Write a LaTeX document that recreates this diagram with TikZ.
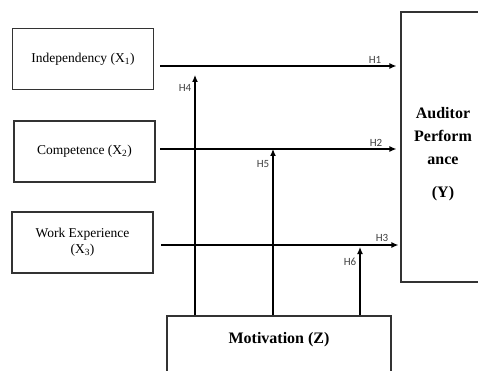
\documentclass[tikz,border=0pt]{standalone}
\usepackage{fontspec}
\setmainfont{Liberation Serif}
\newfontfamily\hypfont{Carlito}
\usetikzlibrary{arrows.meta}
\usetikzlibrary{positioning}

\tikzset{
  varbox/.style={draw=black!80, line width=1.2pt, minimum width=141pt, minimum height=61pt,
    align=center, font=\fontsize{13.5}{16}\selectfont, inner sep=0pt},
  bigbox/.style={draw=black!80, line width=1.2pt, inner sep=0pt},
  boldtext/.style={font=\fontsize{16}{23}\selectfont\bfseries, align=center, inner sep=0pt},
  link/.style={line width=1.2pt, -{Latex[length=7pt,width=6pt]}},
  hyp/.style={font=\hypfont\fontsize{11}{12}\selectfont, text=black!75, inner sep=0pt},
}

\begin{document}
\begin{tikzpicture}[x=1pt, y=-1pt]
    \useasboundingbox (0,0) rectangle (478,371);
    \clip (0,0) rectangle (478,371);

    % independent variables
    \node[varbox] (x1) at (83,59) {Independency (X\textsubscript{1})};
    \node[varbox] (x2) at (84.5,151.5) {Competence (X\textsubscript{2})};
    \node[varbox] (x3) at (82.5,242.5) {Work Experience\\(X\textsubscript{3})};

    % dependent and moderating variables
    \node[bigbox, minimum width=90pt, minimum height=270pt] (y) at (446,147) {};
    \node[boldtext] (ytext) at (443,154) {Auditor\\Perform\\ance\\[10pt](Y)};
    \node[bigbox, minimum width=224pt, minimum height=90pt] (z) at (279,361) {};
    \node[boldtext] (ztext) at (279,340) {Motivation (Z)};

    % start points of the direct paths
    \coordinate (s1) at (160,66);
    \coordinate (s2) at (160,149);
    \coordinate (s3) at (161,245);

    % end points of the moderating paths
    \coordinate (m4) at (195,75);
    \coordinate (m5) at (273,149);
    \coordinate (m6) at (360,247);

    \draw[link, shorten >=4pt] (s1) -- (s1 -| y.west);
    \draw[link, shorten >=4pt] (s2) -- (s2 -| y.west);
    \draw[link, shorten >=2pt] (s3) -- (s3 -| y.west);

    \draw[link] (m4 |- z.north) -- (m4);
    \draw[link] (m5 |- z.north) -- (m5);
    \draw[link] (m6 |- z.north) -- (m6);

    \node[hyp] (h1) at (375,60) {H1};
    \node[hyp] (h2) at (376,143) {H2};
    \node[hyp] (h3) at (382,238) {H3};
    \node[hyp] (h4) at (185,88) {H4};
    \node[hyp] (h5) at (263,164) {H5};
    \node[hyp] (h6) at (350,262) {H6};
\end{tikzpicture}
\end{document}
